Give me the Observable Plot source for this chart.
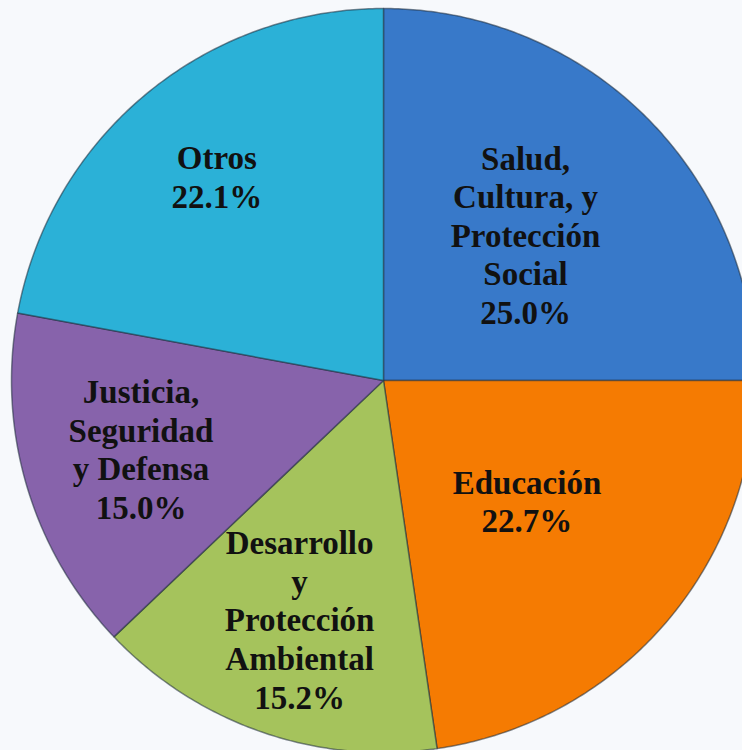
<!DOCTYPE html>
<html><head><meta charset="utf-8">
<script src="https://cdn.jsdelivr.net/npm/d3@7"></script>
<script src="https://cdn.jsdelivr.net/npm/@observablehq/plot@0.6"></script>
<style>html,body{margin:0;padding:0;background:#f7f9fc;overflow:hidden}</style>
</head><body><div id="chart"></div>
<script>
// Data
const categories = ["Salud, Cultura, y Protección Social", "Educación", "Desarrollo y Protección Ambiental", "Justicia, Seguridad y Defensa", "Otros"];
const labelLines = ["Salud,\nCultura, y\nProtección\nSocial", "Educación", "Desarrollo\ny\nProtección\nAmbiental", "Justicia,\nSeguridad\ny Defensa", "Otros"];
const shares = [25.0, 22.7, 15.2, 15.0, 22.1];

// Styling / layout
const colors = ["#3879c9", "#f57b02", "#a5c35c", "#8763ab", "#2bb1d7"];
const labelRadius = [0.54, 0.51, 0.69, 0.68, 0.70];
const W = 742, H = 750, cx = 383, cy = 380, R = 372;

const arcs = d3.pie().sort(null).value(d => d)(shares);
const rows = [];
arcs.forEach((a, i) => {
  rows.push({name: categories[i], x: 0, y: 0});
  const n = Math.max(2, Math.ceil((a.endAngle - a.startAngle) / 0.01));
  for (let k = 0; k <= n; k++) {
    const t = a.startAngle + (a.endAngle - a.startAngle) * k / n;
    rows.push({name: categories[i], x: Math.sin(t), y: Math.cos(t)});
  }
});
const labels = arcs.map((a, i) => {
  const m = (a.startAngle + a.endAngle) / 2;
  return {text: labelLines[i] + "\n" + shares[i].toFixed(1) + "%", x: Math.sin(m) * labelRadius[i], y: Math.cos(m) * labelRadius[i]};
});

const chart = Plot.plot({
  width: W, height: H,
  margin: 0,
  style: {background: "#f7f9fc"},
  x: {domain: [-cx / R, (W - cx) / R], axis: null},
  y: {domain: [-(H - cy) / R, cy / R], axis: null},
  color: {domain: categories, range: colors},
  marks: [
    Plot.line(rows, {x: "x", y: "y", z: "name", fill: "name", stroke: "#1d2b3a", strokeOpacity: 0.55, strokeWidth: 1.5, curve: "linear-closed"}),
    Plot.text(labels, {x: "x", y: "y", text: "text", dy: -4, fontSize: 33, fontWeight: "bold", fontFamily: "'Liberation Serif', 'Times New Roman', serif", lineHeight: 1.17, fill: "#111"})
  ]
});
document.getElementById("chart").appendChild(chart);
</script>
</body></html>
